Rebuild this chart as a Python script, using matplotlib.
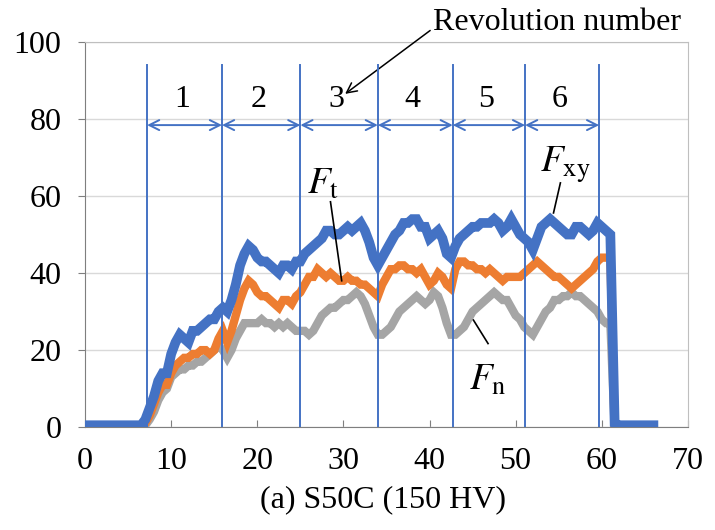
import numpy as np
import matplotlib
matplotlib.use('Agg')
import matplotlib.pyplot as plt

plt.rcParams['font.family'] = ['Liberation Serif', 'DejaVu Serif']
plt.rcParams['mathtext.fontset'] = 'stix'

# time axis, sampled every 0.5
t = np.arange(0, 66.5, 0.5)

# F_xy (blue)
fxy = [0.5] * 14 + [
    2, 5, 8, 12, 14, 14, 19, 22, 24, 23, 22, 25, 25, 26, 27, 28, 28, 30, 31, 30,
    33, 37, 42, 45, 47, 46, 44, 43, 43, 42, 41, 40, 42, 42, 41, 43, 43, 45, 46, 47,
    48, 49, 51, 51, 50, 50, 51, 52, 51, 52, 53, 51, 48, 44, 42, 44, 46, 48, 50, 51,
    53, 53, 54, 54, 52, 52, 49, 50, 51, 49, 45, 44, 47, 49, 50, 51, 52, 52, 53, 53,
    53, 54, 53, 51, 52, 54, 52, 50, 49, 48, 46, 49, 52, 53, 54, 53, 52, 51, 50, 50,
    52, 52, 51, 50, 51, 53, 52, 51, 50,
    1] + [0.5] * 9

# F_t (orange)
ft = [0] * 14 + [
    1, 3, 6, 9, 11, 11, 14, 16, 17, 18, 18, 19, 19, 20, 20, 19, 20, 23, 25, 22,
    25, 29, 33, 36, 38, 37, 35, 34, 34, 33, 32, 31, 33, 33, 32, 34, 35, 37, 39, 39,
    41, 40, 39, 40, 39, 38, 38, 39, 38, 38, 37, 37, 36, 35, 34, 37, 39, 41, 41, 42,
    42, 41, 41, 40, 41, 39, 37, 38, 40, 39, 37, 36, 41, 43, 43, 42, 42, 41, 41, 40,
    41, 40, 39, 38, 39, 39, 39, 39, 40, 41, 42, 43, 42, 41, 40, 39, 39, 38, 37, 36,
    37, 38, 39, 40, 41, 43, 44, 44, 44,
    0] + [0] * 9

# F_n (gray)
fn = [0] * 14 + [
    0.5, 2, 4, 7, 9, 10, 13, 14, 15, 15, 16, 16, 17, 17, 18, 19, 20, 21, 20, 18,
    20, 23, 25, 27, 27, 27, 27, 28, 27, 27, 26, 27, 26, 27, 26, 25, 25, 25, 24, 25,
    27, 29, 30, 31, 31, 32, 33, 33, 34, 35, 34, 32, 29, 26, 24, 24, 25, 26, 28, 30,
    31, 32, 33, 34, 33, 32, 33, 35, 34, 31, 27, 24, 24, 25, 26, 28, 30, 31, 32, 33,
    34, 35, 34, 33, 33, 31, 29, 28, 26, 25, 24, 26, 28, 30, 31, 33, 33, 34, 34, 35,
    34, 34, 33, 32, 31, 30, 28, 27, 27,
    0] + [0] * 9

# revolution boundaries and labels
rev_bounds = [7.2, 15.9, 25.0, 34.0, 42.7, 51.1, 59.7]
rev_labels = ['1', '2', '3', '4', '5', '6']

blue = '#4472C4'
orange = '#ED7D31'
gray = '#A5A5A5'

fig = plt.figure(figsize=(7.15, 5.3), dpi=100)
ax = fig.add_axes([0.119, 0.194, 0.843, 0.727])

ax.plot(t, fn, color=gray, lw=6.0, solid_joinstyle='miter', zorder=3)
ax.plot(t, ft, color=orange, lw=6.0, solid_joinstyle='miter', zorder=3)
ax.plot(t, fxy, color=blue, lw=7.0, solid_joinstyle='miter', zorder=4)

# revolution markers
for b in rev_bounds:
    ax.plot([b, b], [0, 94], color=blue, lw=1.4, zorder=5)
for i, lab in enumerate(rev_labels):
    a, b = rev_bounds[i], rev_bounds[i + 1]
    ax.annotate('', xy=(b, 78.4), xytext=(a, 78.4),
                arrowprops=dict(arrowstyle='<->', color=blue, lw=1.4,
                                shrinkA=0, shrinkB=0, mutation_scale=18))
    ax.text((a + b) / 2 - 0.3, 85, lab, fontsize=23, ha='center', va='center')

ax.annotate('Revolution number', xy=(30.2, 86.5), xytext=(54.8, 105),
            fontsize=23, ha='center', va='center', annotation_clip=False,
            arrowprops=dict(arrowstyle='->', color='black', lw=1.1,
                            shrinkA=0, shrinkB=0, mutation_scale=18,
                            relpos=(0, 0.3)))

# force labels
ax.text(27.6, 63, r'$F_{\mathrm{t}}$', fontsize=27, ha='center', va='center')
ax.plot([28.5, 29.8], [58.5, 38], color='black', lw=1.2, zorder=6)
ax.text(55.8, 68, r'$F_{\mathrm{xy}}$', fontsize=27, ha='center', va='center')
ax.plot([55.2, 54.4], [63.4, 55.6], color='black', lw=1.2, zorder=6)
ax.text(46.8, 12.2, r'$F_{\mathrm{n}}$', fontsize=27, ha='center', va='center')
ax.plot([45.1, 46.8], [27.8, 21.7], color='black', lw=1.2, zorder=6)

ax.set_xlim(0, 70)
ax.set_ylim(0, 100)
ax.set_xticks(range(0, 71, 10))
ax.set_yticks(range(0, 101, 20))
ax.tick_params(axis='both', labelsize=23, length=5, color='#7F7F7F')
ax.tick_params(axis='x', direction='in', pad=14)
ax.tick_params(axis='y', direction='out', pad=12)
ax.yaxis.grid(True, color='#D9D9D9', lw=1.0)
ax.set_axisbelow(True)
for s in ['top', 'right']:
    ax.spines[s].set_color('#BFBFBF')
for s in ['left', 'bottom']:
    ax.spines[s].set_color('#7F7F7F')

fig.text(0.535, 0.057, '(a) S50C (150 HV)', fontsize=23, ha='center', va='center')

fig.savefig('out.png', dpi=100)
